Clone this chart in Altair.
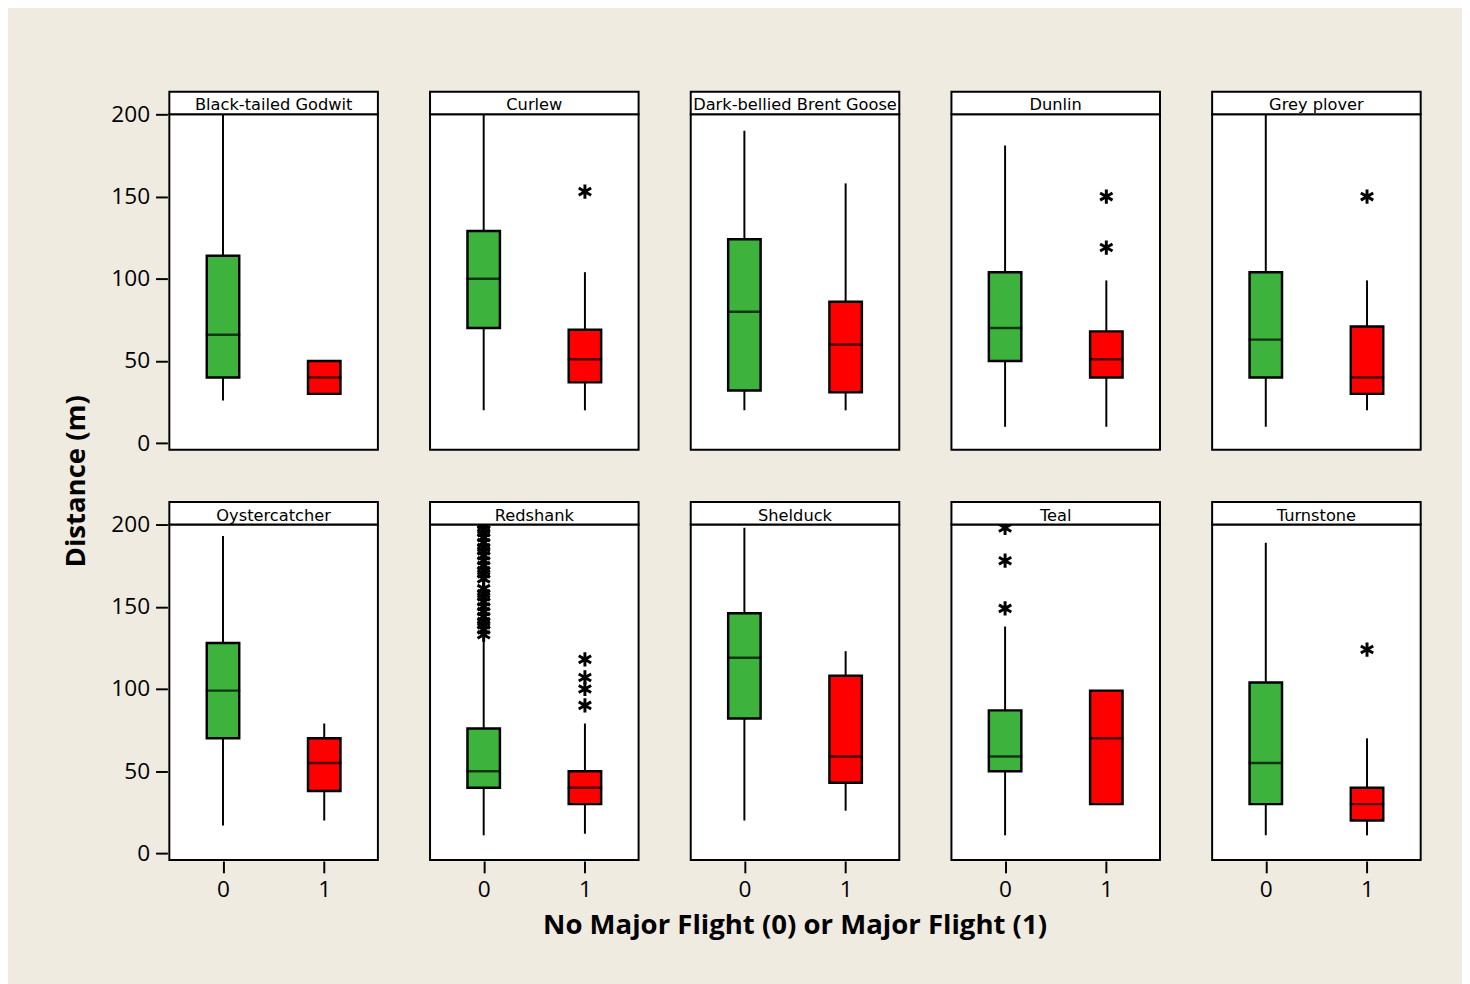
import altair as alt
import pandas as pd

# ---- data ----
species = ["Black-tailed Godwit", "Curlew", "Dark-bellied Brent Goose", "Dunlin", "Grey plover",
           "Oystercatcher", "Redshank", "Shelduck", "Teal", "Turnstone"]

# group 0 = No Major Flight
lo0 = [26, 20, 20, 10, 10, 17, 11, 20, 11, 11]
q1_0 = [40, 70, 32, 50, 40, 70, 40, 82, 50, 30]
med0 = [66, 100, 80, 70, 63, 99, 50, 119, 59, 55]
q3_0 = [114, 129, 124, 104, 104, 128, 76, 146, 87, 104]
hi0 = [200, 200, 190, 181, 200, 193, 131, 198, 138, 189]

# group 1 = Major Flight
lo1 = [30, 20, 20, 10, 20, 20, 12, 26, 30, 11]
q1_1 = [30, 37, 31, 40, 30, 38, 30, 43, 30, 20]
med1 = [40, 51, 60, 51, 40, 55, 40, 59, 70, 30]
q3_1 = [50, 69, 86, 68, 71, 70, 50, 108, 99, 40]
hi1 = [50, 104, 158, 99, 99, 79, 79, 123, 99, 70]

# outliers
out_species = (["Curlew"] + ["Dunlin"] * 2 + ["Grey plover"]
               + ["Redshank"] * 24 + ["Redshank"] * 4
               + ["Teal"] * 3 + ["Turnstone"])
out_group = (["1"] + ["1"] * 2 + ["1"]
             + ["0"] * 24 + ["1"] * 4
             + ["0"] * 3 + ["1"])
out_value = ([153] + [150, 119] + [150]
             + [200, 197, 195, 192, 189, 186, 184, 181, 178, 175, 172, 170, 167,
                161, 158, 156, 153, 150, 147, 144, 141, 139, 136, 133]
             + [118, 107, 100, 90]
             + [198, 178, 149] + [124])

x_title = "No Major Flight (0) or Major Flight (1)"
y_title = "Distance (m)"

# ---- build table ----
rows = []
for i, s in enumerate(species):
    rows.append(dict(kind="box", species=s, group="0", lo=lo0[i], q1=q1_0[i], med=med0[i], q3=q3_0[i], hi=hi0[i]))
    rows.append(dict(kind="box", species=s, group="1", lo=lo1[i], q1=q1_1[i], med=med1[i], q3=q3_1[i], hi=hi1[i]))
for s, g, v in zip(out_species, out_group, out_value):
    rows.append(dict(kind="out", species=s, group=g, value=v))
df = pd.DataFrame(rows)

W, H = 212, 341
FONT = "Open Sans"
HFONT = "DejaVu Sans"
TFONT = "Open Sans"

xs = alt.Scale(type="point", padding=0.53)
ys = alt.Scale(domain=[-4, 200], nice=False, zero=False)
X = alt.X("group:O", scale=xs, title=None, axis=alt.Axis(labelAngle=0, values=["0", "1"]))
ax_y = alt.Axis(values=[0, 50, 100, 150, 200])

base = alt.Chart().properties(width=W, height=H)
boxes = base.transform_filter("datum.kind == 'box'")

whisk = boxes.mark_rule(color="black", strokeWidth=2).encode(
    x=X, y=alt.Y("lo:Q", scale=ys, title=None, axis=ax_y), y2="hi:Q")
bar = boxes.mark_bar(size=33, stroke="black", strokeWidth=2.5).encode(
    x=X, y=alt.Y("q1:Q", scale=ys, title=None, axis=ax_y), y2="q3:Q",
    color=alt.Color("group:N", scale=alt.Scale(domain=["0", "1"], range=["#3db33d", "#ff0000"]), legend=None))
med = boxes.mark_tick(color="black", thickness=2.5, size=35).encode(
    x=X, y=alt.Y("med:Q", scale=ys, title=None, axis=ax_y))
ast = "M0,-1L0,1M-0.87,-0.5L0.87,0.5M-0.87,0.5L0.87,-0.5"
outl = base.transform_filter("datum.kind == 'out'").mark_point(
    shape=ast, size=210, filled=False, stroke="black", strokeWidth=3, opacity=1).encode(
    x=X, y=alt.Y("value:Q", scale=ys, title=None, axis=ax_y))
hdr_data = base.transform_filter("datum.kind == 'box' && datum.group == '0'")
hdr_rect = hdr_data.mark_rect(fill="white", stroke="black", strokeWidth=2).encode(
    x=alt.value(0), x2=alt.value(W), y=alt.value(-23), y2=alt.value(0))
hdr_text = hdr_data.mark_text(font=HFONT, fontSize=16.5, baseline="alphabetic", align="center", color="black").encode(
    x=alt.value(W / 2), y=alt.value(-4), text="species:N")

layer = alt.layer(whisk, bar, med, outl, hdr_rect, hdr_text)

chart = layer.facet(
    facet=alt.Facet("species:N", sort=species,
                    header=alt.Header(labels=False, labelFontSize=0, labelPadding=0,
                                      title=x_title, titleOrient="bottom",
                                      titleFont=TFONT, titleFontSize=28, titleFontWeight="bold",
                                      titleColor="black", titlePadding=11)),
    columns=5,
    data=df,
    spacing={"row": 50, "column": 49},
).properties(
    background="#efebe1",
    padding={"left": 56, "top": 75, "right": 40, "bottom": 40},
    title=alt.TitleParams(y_title, orient="left", anchor="middle", font=TFONT, fontSize=28,
                          fontWeight="bold", color="black", offset=20, dx=34),
).configure_view(
    stroke="black", strokeWidth=2, fill="white"
).configure_axis(
    grid=False, domain=False, tickColor="black", tickWidth=2, tickSize=12,
    labelFont=FONT, labelFontSize=23, labelColor="black", labelPadding=6,
)

chart.save("out.html", embed_options={"renderer": "svg", "actions": False})
